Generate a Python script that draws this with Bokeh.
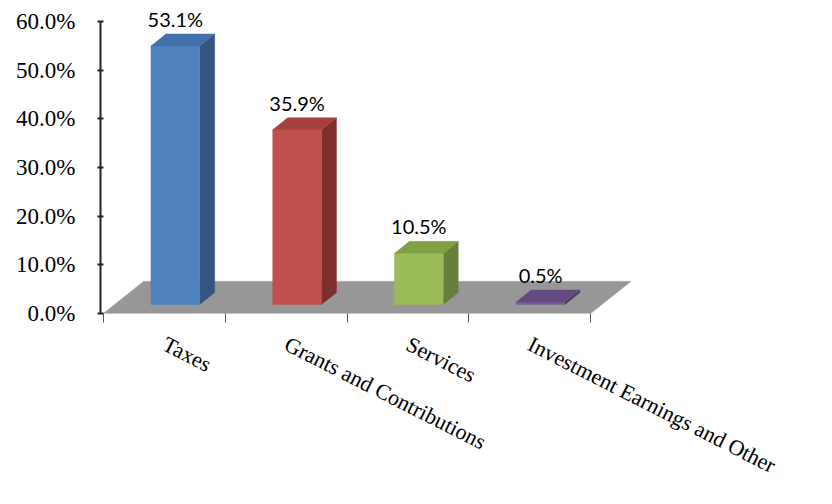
from bokeh.plotting import figure
from bokeh.models import FixedTicker, NumeralTickFormatter, Range1d
from bokeh.embed import file_html
from bokeh.resources import INLINE
from bokeh.core.properties import value

# ---- data ----
categories = ["Taxes", "Grants and Contributions", "Services", "Investment Earnings and Other"]
shares = [0.531, 0.359, 0.105, 0.005]
y_ticks = [0.0, 0.1, 0.2, 0.3, 0.4, 0.5, 0.6]

front_colors = ["#4F81BD", "#C0504D", "#9BBB59", "#7A5E9A"]
side_colors = ["#34557F", "#7E2F2D", "#687E3A", "#4B3863"]
top_colors = ["#4270A8", "#A5403D", "#81A046", "#634A80"]

# ---- pseudo-3D geometry (styling offsets, in data units) ----
HALF_W = 0.20
FRONT_DX = 0.09
FRONT_DY = 0.0185
DEPTH_DX = 0.123
DEPTH_DY = 0.0247
FLOOR_DX = 0.33
FLOOR_DY = 0.066

SERIF = "'Liberation Serif', 'Times New Roman', serif"

p = figure(width=816, height=496,
           x_range=Range1d(-0.0246, 4.476), y_range=Range1d(0, 0.6267),
           output_backend="svg", toolbar_location=None,
           min_border_left=100, min_border_right=168,
           min_border_top=8, min_border_bottom=183)
p.outline_line_color = None
p.xgrid.visible = False
p.ygrid.visible = False
p.background_fill_color = "white"
p.border_fill_color = "white"

n = len(categories)

# floor
p.patch([0, n, n + FLOOR_DX, FLOOR_DX], [0, 0, FLOOR_DY, FLOOR_DY],
        fill_color="#979797", line_color="#ababab", line_width=1)

front_xs, front_ys, side_xs, side_ys, top_xs, top_ys = [], [], [], [], [], []
label_x, label_y = [], []
for i, v in enumerate(shares):
    c = i + 0.5 + FRONT_DX
    x0, x1 = c - HALF_W, c + HALF_W
    y0, y1 = FRONT_DY, FRONT_DY + v
    front_xs.append([x0, x1, x1, x0]); front_ys.append([y0, y0, y1, y1])
    side_xs.append([x1, x1 + DEPTH_DX, x1 + DEPTH_DX, x1])
    side_ys.append([y0, y0 + DEPTH_DY, y1 + DEPTH_DY, y1])
    top_xs.append([x0, x1, x1 + DEPTH_DX, x0 + DEPTH_DX])
    top_ys.append([y1, y1, y1 + DEPTH_DY, y1 + DEPTH_DY])
    label_x.append(c)
    label_y.append(y1 + DEPTH_DY)

p.patches(side_xs, side_ys, fill_color=side_colors, line_color=side_colors, line_width=0.5)
p.patches(front_xs, front_ys, fill_color=front_colors, line_color=front_colors, line_width=0.5)
p.patches(top_xs, top_ys, fill_color=top_colors, line_color=top_colors, line_width=0.5)

p.text(x=label_x, y=label_y, text=[f"{v*100:.1f}%" for v in shares],
       text_align="center", text_baseline="bottom", y_offset=-3,
       text_font=value("Lato"), text_font_size="20px", text_color="black")

# x axis: labels at category centers, ticks at boundaries
xa = p.xaxis[0]
xa.ticker = FixedTicker(ticks=[i + 0.5 for i in range(n)], minor_ticks=list(range(n + 1)))
xa.major_label_overrides = {i + 0.5: cat for i, cat in enumerate(categories)}
xa.axis_line_color = None
xa.major_tick_line_color = None
xa.major_tick_out = 0
xa.major_tick_in = 0
xa.minor_tick_line_color = "#555555"
xa.minor_tick_out = 9
xa.minor_tick_in = 0
xa.major_label_orientation = -0.47
xa.major_label_standoff = 20
xa.major_label_text_font = SERIF
xa.major_label_text_font_size = "22px"
xa.major_label_text_color = "black"

# y axis
ya = p.yaxis[0]
ya.ticker = FixedTicker(ticks=y_ticks)
ya.formatter = NumeralTickFormatter(format="0.0%")
ya.bounds = (0, 0.6)
ya.axis_line_color = "#222222"
ya.axis_line_width = 2
ya.major_tick_line_color = "#222222"
ya.major_tick_line_width = 2
ya.major_tick_in = 3
ya.major_tick_out = 3
ya.minor_tick_line_color = None
ya.major_label_standoff = 22
ya.major_label_text_font = SERIF
ya.major_label_text_font_size = "23px"
ya.major_label_text_color = "black"

open("out.html", "w").write(file_html(p, INLINE))
